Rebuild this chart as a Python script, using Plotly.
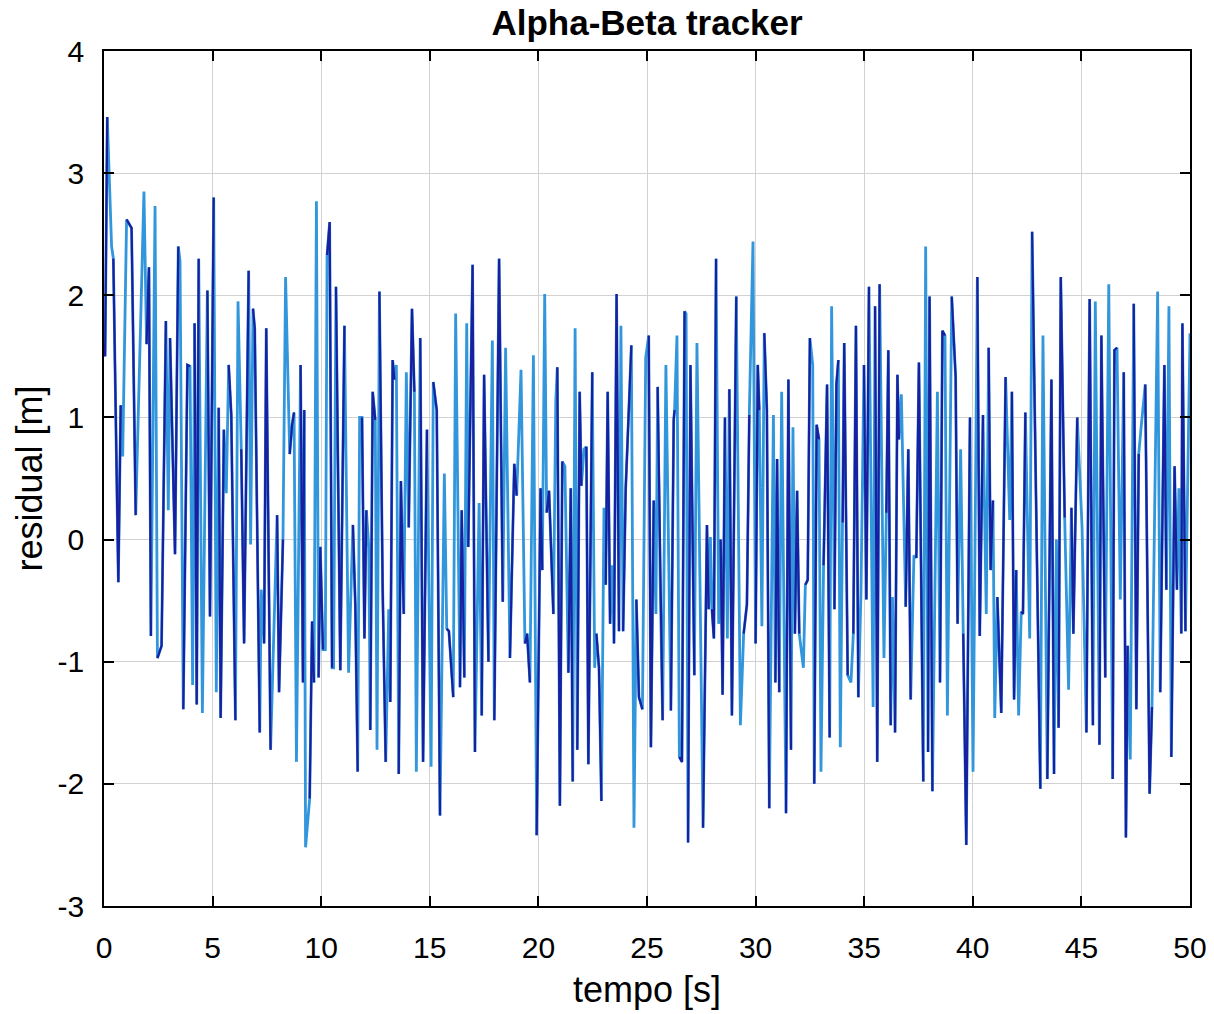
import plotly.graph_objects as go

# Alpha-beta tracker residual vs time (turning points of the residual trace)
tempo = [
    0.0, 0.05, 0.15, 0.35, 0.43, 0.66, 0.77, 0.86, 1.04, 1.27, 1.46, 1.84, 1.96, 2.07,
    2.16, 2.35, 2.46, 2.65, 2.85, 2.96, 3.04, 3.27, 3.42, 3.5, 3.65, 3.84, 3.96, 4.08,
    4.17, 4.27, 4.36, 4.53, 4.76, 4.88,
    5.05, 5.17, 5.28, 5.37, 5.52, 5.63, 5.74, 5.86, 6.05, 6.17, 6.32, 6.45, 6.66, 6.75,
    6.86, 6.94, 7.17, 7.24, 7.37, 7.47, 7.67, 7.86, 7.97, 8.06, 8.24, 8.36, 8.55, 8.66,
    8.75, 8.86, 9.05, 9.16, 9.22, 9.28, 9.47, 9.58, 9.67, 9.78, 9.88,
    9.96, 10.08, 10.19, 10.27, 10.39, 10.5, 10.57, 10.68, 10.88, 11.07, 11.26, 11.46,
    11.57, 11.68, 11.77, 11.88, 11.99, 12.08, 12.19, 12.26, 12.37, 12.49, 12.57, 12.68,
    12.83, 12.97, 13.11, 13.18, 13.29, 13.37, 13.46, 13.57, 13.67, 13.8, 13.92, 14.03,
    14.18, 14.29, 14.38, 14.56, 14.69, 14.87,
    15.06, 15.16, 15.32, 15.47, 15.67, 15.78, 15.88, 16.08, 16.19, 16.39, 16.47, 16.59,
    16.7, 16.77, 16.97, 17.08, 17.27, 17.39, 17.5, 17.7, 17.88, 17.97, 18.19, 18.36,
    18.49, 18.69, 18.89, 19.0, 19.2, 19.38, 19.48, 19.61, 19.77, 19.92,
    20.1, 20.18, 20.29, 20.38, 20.49, 20.69, 20.8, 20.87, 20.99, 21.1, 21.22, 21.38,
    21.49, 21.58, 21.69, 21.79, 21.9, 21.98, 22.1, 22.21, 22.3, 22.48, 22.59, 22.67,
    22.79, 22.9, 23.02, 23.1, 23.19, 23.3, 23.4, 23.48, 23.6, 23.71, 23.8, 23.9, 24.02,
    24.28, 24.4, 24.51, 24.63, 24.79, 24.94,
    25.08, 25.18, 25.31, 25.41, 25.49, 25.61, 25.72, 25.87, 26.1, 26.23, 26.27, 26.38,
    26.49, 26.61, 26.73, 26.8, 26.89, 27.0, 27.18, 27.3, 27.58, 27.76, 27.84, 27.92,
    27.99, 28.08, 28.18, 28.3, 28.39, 28.48, 28.59, 28.7, 28.79, 28.91, 29.11, 29.3,
    29.45, 29.6, 29.71, 29.88,
    30.0, 30.1, 30.17, 30.29, 30.4, 30.52, 30.63, 30.82, 30.91, 30.99, 31.09, 31.2,
    31.4, 31.51, 31.63, 31.72, 31.81, 31.91, 32.01, 32.2, 32.29, 32.4, 32.5, 32.63,
    32.7, 32.81, 32.92, 33.01, 33.13, 33.29, 33.41, 33.5, 33.63, 33.72, 33.81, 33.9,
    34.01, 34.08, 34.24, 34.39, 34.5, 34.62, 34.73, 34.85,
    34.99, 35.1, 35.22, 35.41, 35.5, 35.6, 35.71, 35.91, 36.02, 36.11, 36.22, 36.3,
    36.42, 36.53, 36.6, 36.71, 36.91, 37.03, 37.14, 37.29, 37.4, 37.52, 37.72, 37.83,
    37.94, 38.01, 38.14, 38.37, 38.49, 38.6, 38.72, 38.83, 39.03, 39.21, 39.3, 39.44,
    39.56, 39.7, 39.87,
    40.01, 40.21, 40.32, 40.47, 40.62, 40.73, 40.82, 40.93, 41.01, 41.13, 41.31, 41.51,
    41.7, 41.8, 41.9, 42.0, 42.11, 42.23, 42.31, 42.42, 42.62, 42.73, 42.93, 43.11,
    43.23, 43.43, 43.62, 43.74, 43.85, 43.95, 44.05, 44.23, 44.41, 44.54, 44.63, 44.81,
    45.03, 45.23, 45.38, 45.53, 45.64, 45.83, 45.92, 46.1, 46.26, 46.44, 46.52, 46.64,
    46.79, 46.95, 47.05, 47.13, 47.25, 47.41, 47.53, 47.64, 47.74, 47.94, 48.14, 48.25,
    48.51, 48.63, 48.82, 48.91, 49.03, 49.14, 49.29, 49.4, 49.49, 49.6, 49.65, 49.79,
    50.0,
]

residual = [
    1.6, 1.5, 3.46, 2.4, 2.3, -0.35, 1.1, 0.68, 2.62, 2.55, 0.2, 2.85, 1.6, 2.23,
    -0.79, 2.73, -0.97, -0.87, 1.79, 0.24, 1.65, -0.12, 2.4, 2.28, -1.39, 1.43, 1.42, -1.19,
    1.77, -1.35, 2.3, -1.42, 2.04, -0.63,
    2.8, -1.25, 1.08, -1.46, 0.9, 0.38, 1.43, 1.02, -1.48, 1.95, 0.74, -0.85, 2.2, -0.04,
    1.89, 1.73, -1.58, -0.41, -0.85, 1.73, -1.72, -0.53, 0.2, -1.25, 0.0, 2.15, 0.7, 0.94,
    1.04, -1.82, 1.43, -1.17, 1.06, -2.52, -2.12, -0.67, -1.17, 2.77, -1.13,
    -0.06, -0.9, -0.9, 2.33, 2.6, -1.05, -1.05, 2.07, -1.07, 1.75, -1.09, 0.12,
    -0.53, -1.9, 1.0, 1.0, -0.81, 0.24, -0.06, -1.56, 1.21, 0.98, -1.72, 2.03,
    -0.41, -1.82, -0.57, -1.33, 1.47, 1.31, 1.43, -1.92, 0.48, -0.61, 1.37, 0.1,
    1.89, 1.21, -1.9, 1.65, -1.82, 0.9,
    -1.86, 1.29, 1.06, -2.26, 0.54, -0.73, -0.75, -1.29, 1.85, -1.21, 0.24, -1.13,
    1.77, -0.06, 2.25, -1.74, 0.3, -1.44, 1.35, -1.0, 1.63, -1.48, 2.3, -0.51,
    1.57, -0.97, 0.62, 0.36, 1.39, -0.85, -0.77, -1.17, 1.51, -2.42,
    0.42, -0.25, 2.01, 0.22, 0.4, -0.61, 1.13, 1.41, -2.18, 0.64, 0.6, -1.09,
    0.42, -1.98, 1.73, -1.72, 1.21, 0.44, 0.74, 0.76, -1.84, 1.37, -1.05, -0.77,
    -1.05, -2.14, 0.26, -0.37, 1.21, -0.69, -0.21, -0.85, 2.01, -0.75, 1.75, -0.75, 0.42,
    1.59, -2.36, -0.49, -1.29, -1.39, 1.49,
    1.67, -1.7, 0.32, -0.61, 1.25, -0.37, -1.48, 1.43, -1.4, 0.98, 1.06, 1.67,
    -1.78, -1.82, 1.87, 1.85, -2.48, 1.43, -1.11, 1.61, -2.36, 0.12, -0.57, 0.02,
    -0.57, -0.81, 2.3, -0.69, 0.0, -1.27, 1.0, -0.81, 1.23, -1.44, 1.99, -1.52,
    -0.77, -0.53, 1.02, 2.44,
    -0.85, 1.43, 1.06, -0.71, 1.69, 1.06, -2.2, 1.02, -1.17, 0.66, -1.25, 1.21,
    -2.24, 1.31, -1.72, 0.92, -0.77, 0.4, -0.77, -1.05, -0.37, -0.33, 1.65, 1.43,
    -2.0, 0.94, 0.82, -1.9, -0.21, 1.27, -1.62, 1.91, -0.57, 1.27, 1.47, -1.7,
    0.14, 1.61, -1.11, -1.17, -0.77, 1.75, -1.29, -0.45,
    1.43, -0.49, 2.07, -1.37, 1.91, -1.82, 2.09, -0.97, 0.22, 1.55, -1.52, -0.47,
    -1.58, 1.35, 0.82, 1.19, -0.55, 0.74, -1.31, -0.13, -0.15, 1.45, -1.98, 2.4,
    -1.74, 1.99, -2.06, 1.21, -1.17, 1.71, 1.67, -1.44, 1.99, 1.33, -0.69, 0.74,
    -0.77, -2.5, 1.0,
    -1.9, 2.15, -0.79, 1.02, -0.61, 1.57, -0.25, 0.32, -1.46, -0.47, -1.42, 1.33,
    0.16, 1.21, -1.31, -0.25, -1.44, -0.59, -0.61, 1.04, -0.81, 2.52, 0.22, -2.04,
    1.67, -1.96, 1.31, -1.92, 0.0, -1.54, 2.15, 0.18, -1.23, 0.26, -0.77, 1.0,
    0.1, -1.58, 1.97, -1.52, 1.95, -1.68, 1.67, -1.13, 2.09, -1.96, 1.55, 1.57,
    -0.49, 1.37, -2.44, -0.87, -1.8, 1.93, -1.39, 0.7, 0.9, 1.27, -2.08, -1.37,
    2.03, -1.25, 1.43, -0.41, 1.91, -1.78, 0.6, -0.41, 0.42, -0.77, 1.77, -0.75,
    1.69,
]

x_ticks = [0, 5, 10, 15, 20, 25, 30, 35, 40, 45, 50]
y_ticks = [-3, -2, -1, 0, 1, 2, 3, 4]

LIGHT = "#3196dc"
DARK = "#1820a0"
FONT = "Liberation Sans, Arial, Helvetica, sans-serif"

# Pairs of segments alternate between the darker and the lighter shade
dark_x, dark_y = [], []
for i in range(0, len(tempo) - 2, 4):
    dark_x += [tempo[i], tempo[i + 1], tempo[i + 2], None]
    dark_y += [residual[i], residual[i + 1], residual[i + 2], None]

fig = go.Figure()
fig.add_trace(go.Scatter(x=tempo, y=residual, mode="lines",
                         line=dict(color=LIGHT, width=2.8), showlegend=False))
fig.add_trace(go.Scatter(x=dark_x, y=dark_y, mode="lines",
                         line=dict(color=DARK, width=2.2), showlegend=False,
                         connectgaps=False))

axis_common = dict(
    showline=True, linecolor="black", linewidth=1.5, mirror="ticks",
    ticks="inside", ticklen=10, tickwidth=1.5, tickcolor="black",
    showgrid=True, gridcolor="#d2d2d2", gridwidth=1, zeroline=False,
    tickfont=dict(family=FONT, size=30, color="black"),
)

fig.update_xaxes(range=[0, 50], tickvals=x_ticks,
                 ticktext=[str(v) for v in x_ticks], ticklabelstandoff=14,
                 title=dict(text="tempo [s]", standoff=14,
                            font=dict(family=FONT, size=36, color="black")),
                 **axis_common)
fig.update_yaxes(range=[-3, 4], tickvals=y_ticks,
                 ticktext=[str(v) for v in y_ticks], ticklabelstandoff=12,
                 title=dict(text="residual [m]", standoff=4,
                            font=dict(family=FONT, size=36, color="black")),
                 **axis_common)

fig.update_layout(
    width=1214, height=1014,
    margin=dict(l=104, r=24, t=51, b=108, autoexpand=False),
    paper_bgcolor="white", plot_bgcolor="white",
    title=dict(text="<b>Alpha-Beta tracker</b>", x=0.533, xanchor="center",
               y=0.978, yanchor="middle",
               font=dict(family=FONT, size=35, color="black")),
)

fig.write_html("out.html")
